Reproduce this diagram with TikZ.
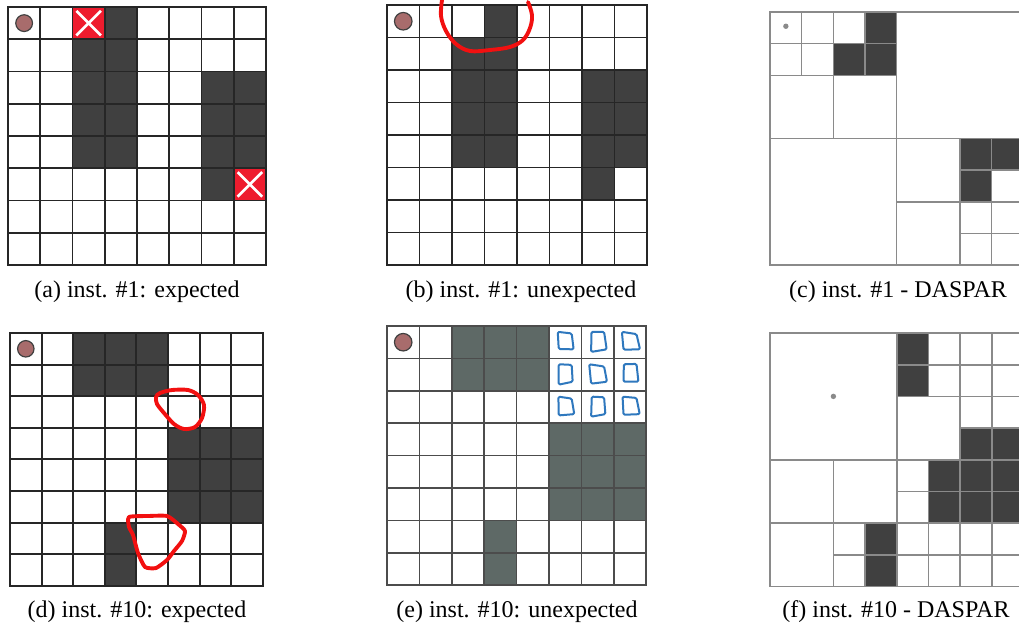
\documentclass[tikz,border=0pt]{standalone}
\usepackage{fontspec}
\setmainfont{Liberation Serif}
\definecolor{cellfill}{HTML}{404040}
\definecolor{efill}{HTML}{5E6966}
\definecolor{dotcol}{HTML}{A86C6C}
\definecolor{qline}{HTML}{8A8A8A}
\definecolor{xred}{HTML}{EE1C2E}
\definecolor{inkblue}{HTML}{2F78BE}
\definecolor{marker}{HTML}{F21010}
\tikzset{
  gridline/.style={line width=1.4pt, draw=black!85, line cap=rect},
  egridline/.style={line width=1.3pt, draw=black!70, line cap=rect},
  qtline/.style={line width=1.2pt, draw=qline, line cap=rect},
  darkcell/.style={fill=cellfill},
  robot/.style={fill=dotcol, draw=black!75, line width=0.9pt},
  qdot/.style={fill=qline},
  crosscell/.style={fill=xred},
  crossline/.style={draw=white, line width=2pt},
  markerloop/.style={draw=marker, line width=2.9pt, line cap=round, line join=round},
  inkbox/.style={draw=inkblue, line width=1.5pt, rounded corners=1pt, line join=round},
  captext/.style={font=\fontsize{18}{20}\selectfont, inner sep=0pt, anchor=base}
}
\begin{document}
\begin{tikzpicture}[x=0.75pt,y=-0.75pt]
\useasboundingbox (0,0) rectangle (1019,629);
\clip (0,0) rectangle (1019,629);
\fill[white] (0,0) rectangle (1019,629);

% ---------- (a) ----------
\begin{scope}[shift={(8,7)},x=24.19pt,y=-24.19pt]
  \foreach \c/\r in {3/0,2/1,3/1,2/2,3/2,6/2,7/2,2/3,3/3,6/3,7/3,2/4,3/4,6/4,7/4,6/5}
    \fill[darkcell] (\c,\r) rectangle ++(1,1);
  \foreach \c/\r in {2/0,7/5}{
    \fill[crosscell] (\c,\r) rectangle ++(1,1);
    \draw[crossline] (\c+0.12,\r+0.12) -- (\c+0.88,\r+0.88) (\c+0.88,\r+0.12) -- (\c+0.12,\r+0.88);
  }
  \foreach \i in {0,...,8}{
    \draw[gridline] (\i,0) -- (\i,8);
    \draw[gridline] (0,\i) -- (8,\i);
  }
  \draw[robot] (0.5,0.5) circle (0.26);
\end{scope}

% ---------- (b) ----------
\begin{scope}[shift={(387,5)},x=24.38pt,y=-24.38pt]
  \foreach \c/\r in {3/0,2/1,3/1,2/2,3/2,6/2,7/2,2/3,3/3,6/3,7/3,2/4,3/4,6/4,7/4,6/5}
    \fill[darkcell] (\c,\r) rectangle ++(1,1);
  \foreach \i in {0,...,8}{
    \draw[gridline] (\i,0) -- (\i,8);
    \draw[gridline] (0,\i) -- (8,\i);
  }
  \draw[robot] (0.5,0.5) circle (0.27);
\end{scope}
\draw[markerloop] plot[smooth, tension=0.6] coordinates
  {(442,0) (441,16) (446,31) (456,44) (470,51) (490,50) (510,47) (523,40) (530,28) (532,15) (528,2)};

% ---------- (c) ----------
\begin{scope}[shift={(770,12)},x=23.74pt,y=-23.74pt]
  \foreach \c/\r in {3/0,2/1,3/1,6/4,7/4,6/5}
    \fill[darkcell] (\c,\r) rectangle ++(1,1);
  \draw[qtline] (0,0) rectangle (8,8);
  \draw[qtline] (4,0) -- (4,8) (0,4) -- (8,4);
  \draw[qtline] (2,0) -- (2,4) (0,2) -- (4,2);
  \draw[qtline] (1,0) -- (1,2) (3,0) -- (3,2) (0,1) -- (4,1);
  \draw[qtline] (6,4) -- (6,8) (4,6) -- (8,6);
  \draw[qtline] (7,4) -- (7,8) (6,5) -- (8,5) (6,7) -- (8,7);
  \fill[qdot] (0.5,0.45) circle (0.085);
\end{scope}

% ---------- (d) ----------
\begin{scope}[shift={(10,333)},x=23.7pt,y=-23.7pt]
  \foreach \c/\r in {2/0,3/0,4/0,2/1,3/1,4/1,5/3,6/3,7/3,5/4,6/4,7/4,5/5,6/5,7/5,3/6,3/7}
    \fill[darkcell] (\c,\r) rectangle ++(1,1);
  \foreach \i in {0,...,8}{
    \draw[gridline] (\i,0) -- (\i,8);
    \draw[gridline] (0,\i) -- (8,\i);
  }
  \draw[robot] (0.5,0.5) circle (0.26);
\end{scope}
\draw[markerloop] plot[smooth cycle, tension=0.5] coordinates
  {(160,393) (172,390) (188,390) (198,395) (204,405) (202,418) (195,427) (184,429) (174,424) (164,413) (157,404) (156,397)};
\draw[markerloop] plot[smooth cycle, tension=0.35] coordinates
  {(129,517) (148,516) (167,516) (178,524) (185,531) (182,541) (174,551) (167,560) (156,568) (145,567) (138,553) (133,535) (129,527)};

% ---------- (e) ----------
\begin{scope}[shift={(387,326)},x=24.3pt,y=-24.3pt]
  \foreach \c/\r in {2/0,3/0,4/0,2/1,3/1,4/1,5/3,6/3,7/3,5/4,6/4,7/4,5/5,6/5,7/5,3/6,3/7}
    \fill[efill] (\c,\r) rectangle ++(1,1);
  \foreach \i in {0,...,8}{
    \draw[egridline] (\i,0) -- (\i,8);
    \draw[egridline] (0,\i) -- (8,\i);
  }
  \draw[robot] (0.5,0.5) circle (0.27);
  \foreach \c/\r/\a/\b/\d/\e in {5/0/0.00/0.03/0.00/-0.05, 6/0/0.04/-0.02/0.02/0.04, 7/0/-0.02/0.05/0.05/-0.03,
                                 5/1/0.03/0.00/-0.03/0.05, 6/1/-0.03/0.05/0.03/0.02, 7/1/0.04/-0.03/0.00/-0.04,
                                 5/2/0.02/0.04/0.02/0.00, 6/2/0.05/0.00/-0.02/0.04, 7/2/0.00/0.02/0.04/-0.02}
    \draw[inkbox] (\c+0.27+\a,\r+0.18) -- (\c+0.7,\r+0.2+\b) -- (\c+0.76+\d,\r+0.72) -- (\c+0.3,\r+0.76+\e) -- cycle;
\end{scope}

% ---------- (f) ----------
\begin{scope}[shift={(770,333)},x=23.77pt,y=-23.77pt]
  \foreach \c/\r in {4/0,4/1,6/3,7/3,5/4,6/4,7/4,5/5,6/5,7/5,3/6,3/7}
    \fill[darkcell] (\c,\r) rectangle ++(1,1);
  \draw[qtline] (0,0) rectangle (8,8);
  \draw[qtline] (4,0) -- (4,8) (0,4) -- (8,4);
  \draw[qtline] (6,0) -- (6,8) (0,6) -- (8,6);
  \draw[qtline] (7,0) -- (7,8) (5,0) -- (5,2) (5,4) -- (5,8);
  \draw[qtline] (4,1) -- (8,1) (4,2) -- (8,2) (6,3) -- (8,3);
  \draw[qtline] (2,4) -- (2,8) (3,6) -- (3,8);
  \draw[qtline] (4,5) -- (8,5) (2,7) -- (8,7);
  \fill[qdot] (2,2) circle (0.085);
\end{scope}

% ---------- captions ----------
\node[captext] (capa) at (137,297) {(a) inst. \#1: expected};
\node[captext] (capb) at (521,297) {(b) inst. \#1: unexpected};
\node[captext] (capc) at (898,297) {(c) inst. \#1 - DASPAR};
\node[captext] (capd) at (137,617) {(d) inst. \#10: expected};
\node[captext] (cape) at (517,617) {(e) inst. \#10: unexpected};
\node[captext] (capf) at (896,617) {(f) inst. \#10 - DASPAR};
\end{tikzpicture}
\end{document}
